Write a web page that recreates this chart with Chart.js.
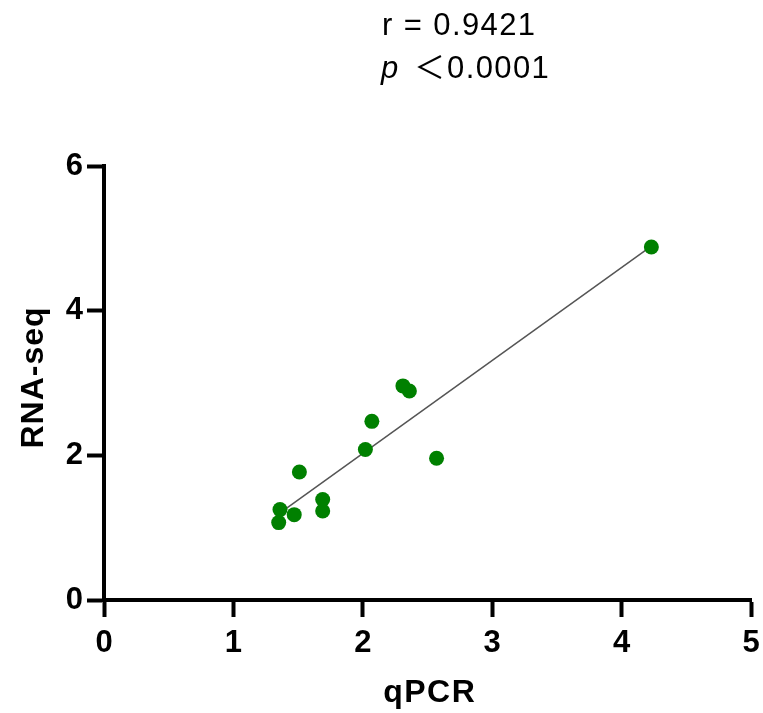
<!DOCTYPE html>
<html><head><meta charset="utf-8">
<style>html,body{margin:0;padding:0;background:#fff}#w{width:763px;height:713px}</style>
<script src="https://cdn.jsdelivr.net/npm/chart.js@4/dist/chart.umd.min.js"></script>
</head><body><div id="w"><canvas id="c" width="763" height="713"></canvas></div>
<script>
const qpcr   = [4.23, 2.07, 2.02, 2.57, 1.51, 1.69, 1.69, 1.36, 1.47, 1.35, 2.31, 2.36];
const rnaseq = [4.88, 2.47, 2.08, 1.96, 1.77, 1.39, 1.23, 1.25, 1.18, 1.07, 2.96, 2.89];
const xTicks = [0, 1, 2, 3, 4, 5];
const yTicks = [0, 2, 4, 6];
const xTitle = 'qPCR';
const yTitle = 'RNA-seq';
const rLabel = 'r = 0.9421';
const pSym = 'p';
const pRel = '＜';
const pVal = '0.0001';

// least-squares fit line through the points
const n = qpcr.length;
const mx = qpcr.reduce((a,b)=>a+b,0)/n, my = rnaseq.reduce((a,b)=>a+b,0)/n;
let sxy=0, sxx=0;
for (let i=0;i<n;i++){ sxy+=(qpcr[i]-mx)*(rnaseq[i]-my); sxx+=(qpcr[i]-mx)**2; }
const slope = sxy/sxx, icpt = my - slope*mx;
const xmin = Math.min(...qpcr), xmax = Math.max(...qpcr);
const fit = [{x:xmin,y:icpt+slope*xmin},{x:xmax,y:icpt+slope*xmax}];

const FONT = "'Liberation Sans', Arial, sans-serif";
const textPlugin = {
  id:'txt',
  afterDraw(chart){
    const ctx = chart.ctx;
    ctx.save();
    ctx.fillStyle = '#000';
    ctx.textBaseline = 'alphabetic';
    ctx.textAlign = 'left';
    // x title
    ctx.font = 'bold 32px ' + FONT;
    ctx.letterSpacing = '1.5px';
    let w = ctx.measureText(xTitle).width - 1.5;
    ctx.fillText(xTitle, 429 - w/2, 702);
    // y title
    ctx.save();
    ctx.font = 'bold 32px ' + FONT;
    ctx.letterSpacing = '1px';
    w = ctx.measureText(yTitle).width - 1;
    ctx.translate(43, 378);
    ctx.rotate(-Math.PI/2);
    ctx.fillText(yTitle, -w/2, 0);
    ctx.restore();
    // annotation
    ctx.font = '31px ' + FONT;
    ctx.letterSpacing = '1.4px';
    ctx.fillText(rLabel, 382, 35);
    ctx.letterSpacing = '0px';
    ctx.font = 'italic 31px ' + FONT;
    ctx.fillText(pSym, 381, 78);
    ctx.font = "31px 'Noto Sans CJK SC', sans-serif";
    ctx.fillText(pRel, 414, 78);
    ctx.font = '31px ' + FONT;
    ctx.letterSpacing = '1.4px';
    ctx.fillText(pVal, 447, 78);
    ctx.restore();
  }
};

const axisCommon = {
  type:'linear',
  grid:{drawOnChartArea:false, drawTicks:true, tickLength:17, tickWidth:4, tickColor:'#000'},
  border:{display:true, color:'#000', width:4},
  ticks:{color:'#000', font:{family:FONT, size:31, weight:'bold'}}
};

new Chart(document.getElementById('c'), {
  type:'scatter',
  data:{
    datasets:[
      {data: qpcr.map((v,i)=>({x:v,y:rnaseq[i]})), backgroundColor:'#008000', borderWidth:0, pointRadius:7.5, pointHoverRadius:7.5, order:1},
      {type:'line', data: fit, borderColor:'#555', borderWidth:1.5, pointRadius:0, fill:false, order:2}
    ]
  },
  options:{
    responsive:false, animation:false, devicePixelRatio:1,
    layout:{padding:{left:0, right:12, top:166, bottom:0}},
    plugins:{legend:{display:false}, tooltip:{enabled:false}},
    scales:{
      x:{...axisCommon, min:0, max:5,
        ticks:{...axisCommon.ticks, padding:8, stepSize:1},
        afterBuildTicks(s){ s.ticks = xTicks.map(v=>({value:v})); },
        afterFit(s){ s.height = 113; s.paddingLeft = 0; s.paddingRight = 0; }},
      y:{...axisCommon, min:0, max:6,
        ticks:{...axisCommon.ticks, padding:4, stepSize:2},
        afterBuildTicks(s){ s.ticks = yTicks.map(v=>({value:v})); },
        afterFit(s){ s.width = 104; s.paddingTop = 0; s.paddingBottom = 0; }}
    }
  },
  plugins:[textPlugin]
});
</script></body></html>
